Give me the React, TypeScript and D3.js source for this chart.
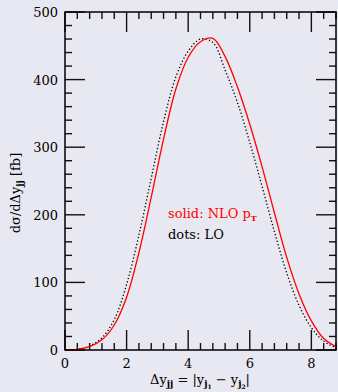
import React, { useEffect, useRef } from 'react';
import * as d3 from 'd3';

// rapidity separation grid and cross sections [fb]
const dyGrid = [0, 0.4, 0.8, 1.2, 1.6, 2.0, 2.4, 2.8, 3.2, 3.6, 4.0, 4.4, 4.8, 5.2, 5.6, 6.0, 6.4, 6.8, 7.2, 7.6, 8.0, 8.4, 8.8];
const nloValues = [0, 1, 5, 15, 37, 78, 144, 226, 312, 386, 433, 456, 461, 434, 389, 334, 271, 203, 137, 83, 43, 17, 5];
const loValues = [0, 1, 6, 18, 45, 97, 170, 254, 338, 404, 442, 460, 455, 414, 366, 307, 242, 175, 114, 66, 33, 13, 3];

const xMajorTicks = [0, 2, 4, 6, 8];
const yMajorTicks = [0, 100, 200, 300, 400, 500];

const W = 338, H = 392;
const BG = '#e8e8f2';
const FONT = '"DejaVu Serif", serif';

const Chart = () => {
  const ref = useRef(null);

  useEffect(() => {
    if (!ref.current) return;
    const left = 65, right = 336, top = 12, bottom = 350;

    d3.select(ref.current).selectAll('*').remove();
    const svg = d3.select(ref.current)
      .append('svg')
      .attr('width', W)
      .attr('height', H)
      .style('display', 'block');

    svg.append('rect').attr('width', W).attr('height', H).attr('fill', BG);

    const x = d3.scaleLinear().domain([0, 8.8]).range([left, right]);
    const y = d3.scaleLinear().domain([0, 500]).range([bottom, top]);

    const xMinor = d3.range(0, 8.81, 0.4).filter(v => !xMajorTicks.some(m => Math.abs(m - v) < 1e-6));
    const yMinor = d3.range(0, 501, 20).filter(v => v % 100 !== 0);

    const ticks = svg.append('g').attr('stroke', '#111').attr('stroke-width', 1.4);
    const major = 20, minor = 7;

    xMajorTicks.forEach(v => {
      ticks.append('line').attr('x1', x(v)).attr('x2', x(v)).attr('y1', bottom).attr('y2', bottom - major);
      ticks.append('line').attr('x1', x(v)).attr('x2', x(v)).attr('y1', top).attr('y2', top + major);
    });
    xMinor.forEach(v => {
      ticks.append('line').attr('x1', x(v)).attr('x2', x(v)).attr('y1', bottom).attr('y2', bottom - minor);
      ticks.append('line').attr('x1', x(v)).attr('x2', x(v)).attr('y1', top).attr('y2', top + minor);
    });
    yMajorTicks.forEach(v => {
      ticks.append('line').attr('x1', left).attr('x2', left + major).attr('y1', y(v)).attr('y2', y(v));
      ticks.append('line').attr('x1', right).attr('x2', right - major).attr('y1', y(v)).attr('y2', y(v));
    });
    yMinor.forEach(v => {
      ticks.append('line').attr('x1', left).attr('x2', left + minor).attr('y1', y(v)).attr('y2', y(v));
      ticks.append('line').attr('x1', right).attr('x2', right - minor).attr('y1', y(v)).attr('y2', y(v));
    });

    // curves
    const line = d3.line()
      .x(d => x(d[0]))
      .y(d => y(d[1]))
      .curve(d3.curveCatmullRom.alpha(0.5));

    svg.append('path')
      .attr('d', line(dyGrid.map((v, i) => [v, loValues[i]])))
      .attr('fill', 'none')
      .attr('stroke', '#000')
      .attr('stroke-width', 1.3)
      .attr('stroke-dasharray', '1.3 2.2');

    svg.append('path')
      .attr('d', line(dyGrid.map((v, i) => [v, nloValues[i]])))
      .attr('fill', 'none')
      .attr('stroke', '#ff0000')
      .attr('stroke-width', 1.3);

    // frame
    svg.append('rect')
      .attr('x', left).attr('y', top)
      .attr('width', right - left).attr('height', bottom - top)
      .attr('fill', 'none').attr('stroke', '#000').attr('stroke-width', 1.5);

    // tick labels
    const lab = svg.append('g').attr('font-family', FONT).attr('font-size', 13).attr('fill', '#000');
    xMajorTicks.forEach(v => {
      lab.append('text').attr('x', x(v)).attr('y', 368).attr('text-anchor', 'middle').text(v);
    });
    yMajorTicks.forEach(v => {
      lab.append('text').attr('x', 58).attr('y', y(v) + 5).attr('text-anchor', 'end').text(v);
    });

    // x axis title
    const xt = svg.append('text')
      .attr('x', 200).attr('y', 384)
      .attr('text-anchor', 'middle')
      .attr('font-family', FONT).attr('font-size', 13);
    xt.append('tspan').text('Δy');
    xt.append('tspan').attr('font-size', 9).attr('font-weight', 'bold').attr('dy', 3).text('jj');
    xt.append('tspan').attr('dy', -3).text(' = |y');
    xt.append('tspan').attr('font-size', 9).attr('font-weight', 'bold').attr('dy', 3).text('j');
    xt.append('tspan').attr('font-size', 6).attr('font-weight', 'bold').attr('dy', 2).text('1');
    xt.append('tspan').attr('dy', -5).text(' − y');
    xt.append('tspan').attr('font-size', 9).attr('font-weight', 'bold').attr('dy', 3).text('j');
    xt.append('tspan').attr('font-size', 6).attr('font-weight', 'bold').attr('dy', 2).text('2');
    xt.append('tspan').attr('dy', -5).text('|');

    // y axis title
    const yt = svg.append('text')
      .attr('transform', 'translate(20,193) rotate(-90)')
      .attr('text-anchor', 'middle')
      .attr('font-family', FONT).attr('font-size', 13);
    yt.append('tspan').text('dσ/dΔy');
    yt.append('tspan').attr('font-size', 9).attr('font-weight', 'bold').attr('dy', 3).text('jj');
    yt.append('tspan').attr('dy', -3).text(' [fb]');

    // legend
    const l1 = svg.append('text')
      .attr('x', 168).attr('y', 218)
      .attr('font-family', FONT).attr('font-size', 13).attr('fill', '#ff0000');
    l1.append('tspan').text('solid:  NLO  p');
    l1.append('tspan').attr('font-size', 8).attr('font-weight', 'bold').attr('dy', 3).text('T');
    svg.append('text')
      .attr('x', 168).attr('y', 239)
      .attr('font-family', FONT).attr('font-size', 13).attr('fill', '#000')
      .text('dots:  LO');
  }, []);

  return <div ref={ref} />;
};

export default function App() {
  useEffect(() => {
    document.body.style.margin = '0';
    document.body.style.background = BG;
  }, []);
  return <Chart />;
}
